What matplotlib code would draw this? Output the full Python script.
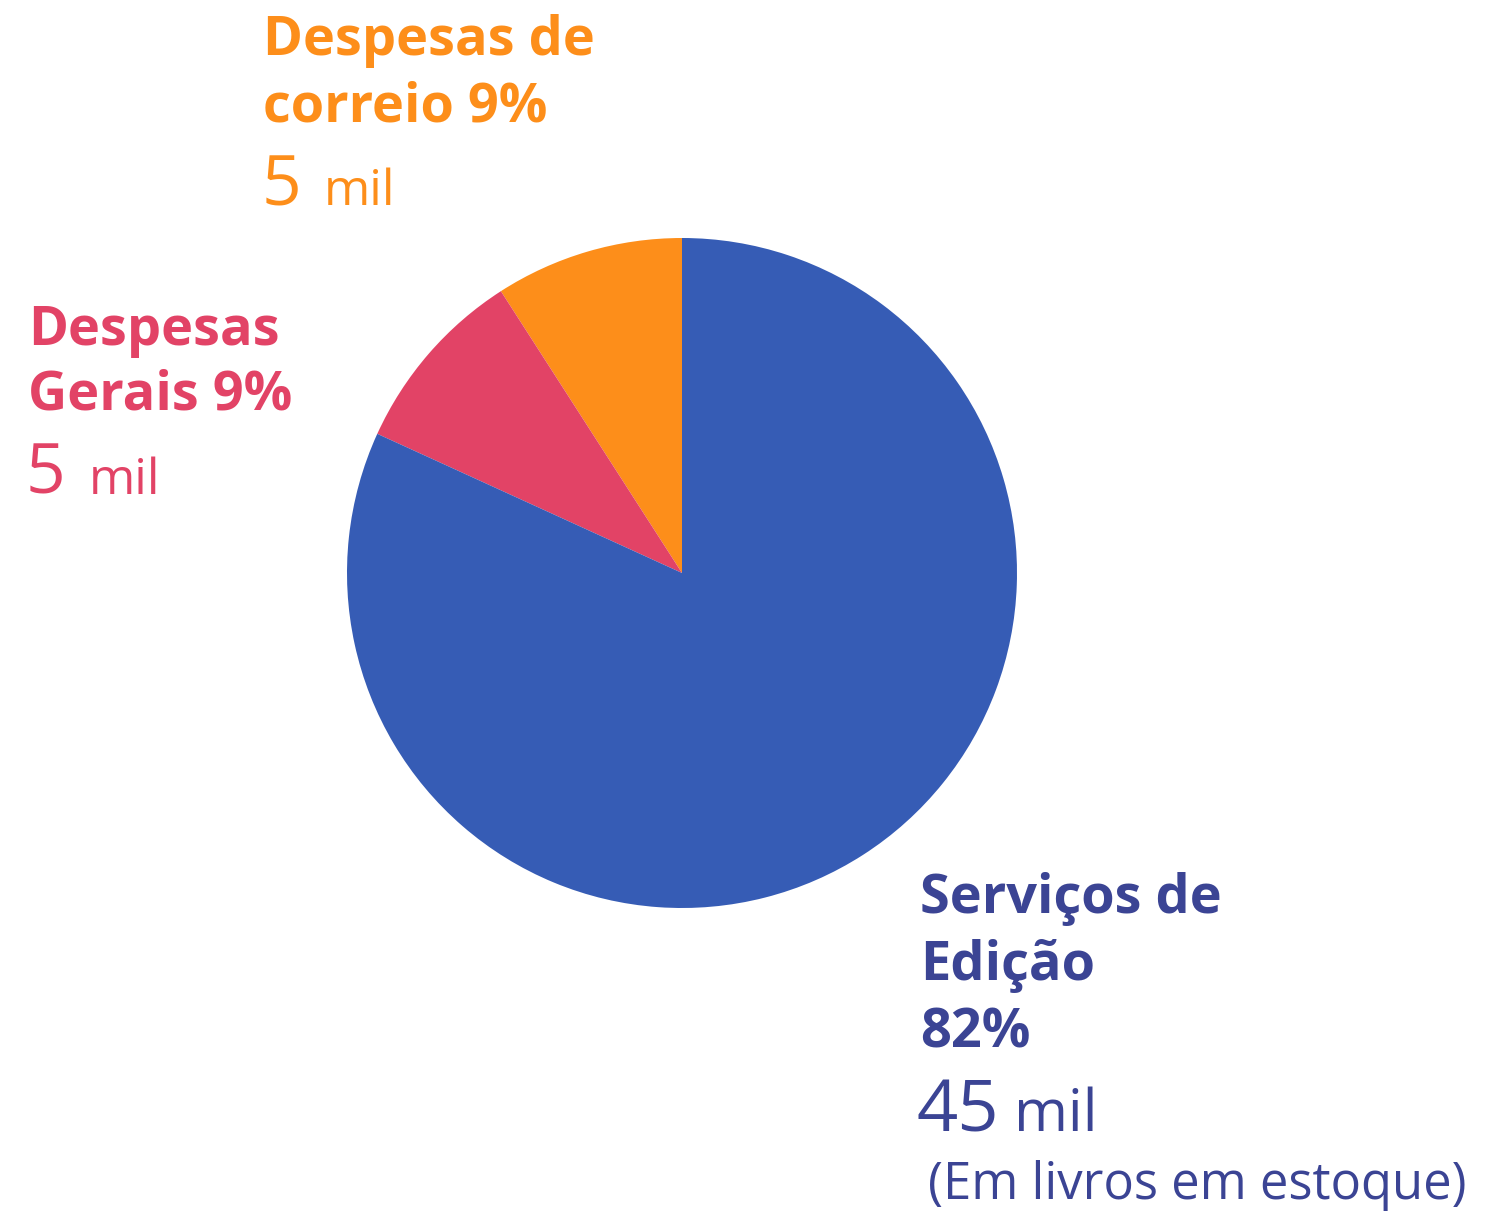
import matplotlib.pyplot as plt

# valores em mil (ordem anti-horária a partir do topo)
labels = ["Despesas de correio", "Despesas Gerais", "Serviços de Edição"]
values = [5, 5, 45]
percents = ["9%", "9%", "82%"]
colors = ["#fd8e1a", "#e24366", "#365cb5"]
text_blue = "#3b4494"

W, H = 1503, 1218
fig = plt.figure(figsize=(W / 100, H / 100), dpi=100)
ax = fig.add_axes([0, 0, 1, 1])

ax.pie(values, colors=colors, startangle=90, counterclock=True,
       center=(682, H - 573), radius=335, frame=True)
ax.set_xlim(0, W)
ax.set_ylim(0, H)
ax.set_aspect("equal")
ax.axis("off")

font = "Open Sans"

def txt(x, y, s, c, size, weight="bold"):
    ax.text(x, H - y, s, color=c, fontsize=size, fontweight=weight,
            family=font, ha="left", va="baseline")

# correio
txt(263, 55, "Despesas de", colors[0], 39)
txt(263, 121, "correio " + percents[0], colors[0], 39)
txt(262, 205, str(values[0]), colors[0], 50, "normal")
txt(324, 205, "mil", colors[0], 36, "normal")

# gerais
txt(28, 345, "Despesas", colors[1], 39)
txt(28, 410, "Gerais " + percents[1], colors[1], 39)
txt(26, 494, str(values[1]), colors[1], 50, "normal")
txt(89, 494, "mil", colors[1], 36, "normal")

# edição
txt(920, 913, "Serviços de", text_blue, 39)
txt(920, 980, "Edição", text_blue, 39)
txt(920, 1047, percents[2], text_blue, 39)
txt(916, 1131, str(values[2]), text_blue, 52, "normal")
txt(1014, 1131, "mil", text_blue, 42, "normal")
txt(928, 1199, "(Em livros em estoque)", text_blue, 36.5, "normal")

fig.savefig("out.png", dpi=100)
